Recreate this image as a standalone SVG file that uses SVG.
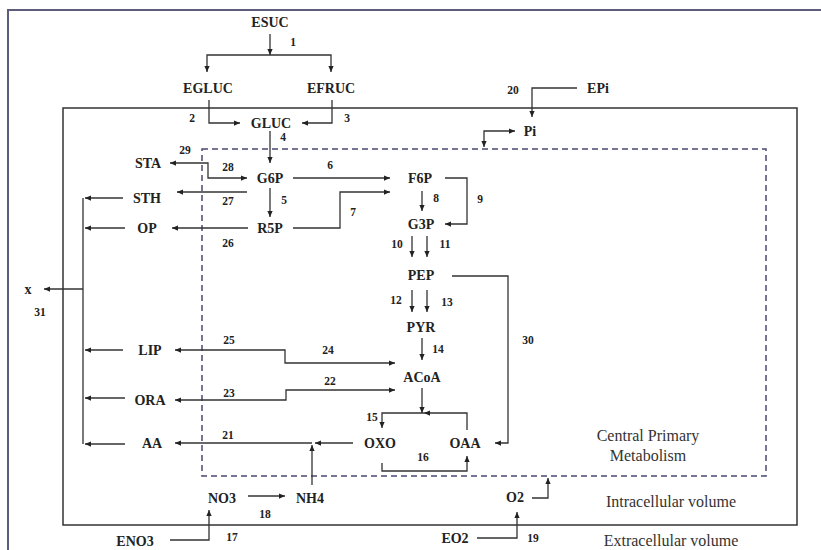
<svg xmlns="http://www.w3.org/2000/svg" width="821" height="550" viewBox="0 0 821 550">
<style>
.n{font-family:"Liberation Serif",serif;font-weight:bold;font-size:14px;fill:#222;text-anchor:middle}
.l{font-family:"Liberation Serif",serif;font-weight:bold;font-size:11.5px;fill:#222;text-anchor:middle}
.t{font-family:"Liberation Serif",serif;font-size:16px;fill:#333;text-anchor:middle}
.c{fill:none;stroke:#333;stroke-width:1.3}
.a{marker-end:url(#ah)}
.b{marker-start:url(#ah);marker-end:url(#ah)}
</style>
<defs>
<marker id="ah" viewBox="0 0 8 8" refX="8" refY="4" markerWidth="6" markerHeight="6" markerUnits="userSpaceOnUse" orient="auto-start-reverse">
<path d="M0,0.5 L8,4 L0,7.5 Z" fill="#222"/>
</marker>
</defs>
<rect x="0" y="0" width="821" height="550" fill="#fff"/>
<g id="frames">
<rect x="8" y="10" width="830" height="560" fill="none" stroke="#5c5c7c" stroke-width="2"/>
<rect x="63" y="108" width="734" height="417" fill="none" stroke="#333" stroke-width="1.5"/>
<rect x="202" y="149" width="564" height="327" fill="none" stroke="#4a4a72" stroke-width="1.5" stroke-dasharray="6,4"/>
</g>
<g id="connectors" class="c">
<path class="a" d="M270,34 V55"/>
<path class="b" d="M207,72 V55 H331 V72"/>
<path class="a" d="M209,100 V123 H240"/>
<path class="a" d="M332,100 V123 H302"/>
<path class="a" d="M270,131 V163"/>
<path class="b" d="M170,163 H208 V178 H247"/>
<path class="a" d="M293,178 H390"/>
<path class="a" d="M247,192 H177"/>
<path class="a" d="M270,188 V217"/>
<path class="a" d="M293,228 H340 V192 H390"/>
<path class="a" d="M248,228 H172"/>
<path class="a" d="M123,198 H85"/>
<path class="a" d="M125,228 H85"/>
<path class="a" d="M123,350 H85"/>
<path class="a" d="M125,398 H85"/>
<path class="a" d="M125,444 H85"/>
<path d="M83,198 V444"/>
<path class="a" d="M83,289 H44"/>
<path class="a" d="M422,191 V211"/>
<path class="a" d="M445,178 H467 V224 H445"/>
<path class="a" d="M412,236 V257"/>
<path class="a" d="M427,236 V257"/>
<path class="a" d="M412,290 V312"/>
<path class="a" d="M427,290 V312"/>
<path class="a" d="M422,338 V360"/>
<path class="a" d="M422,388 V413"/>
<path class="a" d="M467,430 V413 H424"/>
<path class="a" d="M424,413 H382 V428"/>
<path class="a" d="M382,463 V471 H467 V456"/>
<path class="a" d="M452,276 H508 V443 H495"/>
<path class="b" d="M175,350 H285 V363 H395"/>
<path class="b" d="M175,400 H286 V390 H395"/>
<path class="a" d="M353,443 H315"/>
<path class="a" d="M312,443 H175"/>
<path class="a" d="M312,485 V445"/>
<path class="a" d="M248,496 H285"/>
<path class="a" d="M170,540 H209 V510"/>
<path class="a" d="M477,538 H517 V512"/>
<path class="a" d="M532,498 H548 V478"/>
<path class="a" d="M577,88 H532 V117"/>
<path class="b" d="M484,147 V131 H515"/>
</g>
<g id="ESUC"><text class="n" x="270" y="27">ESUC</text></g>
<g id="EGLUC"><text class="n" x="208" y="93">EGLUC</text></g>
<g id="EFRUC"><text class="n" x="331" y="93">EFRUC</text></g>
<g id="GLUC"><text class="n" x="271" y="128">GLUC</text></g>
<g id="EPi"><text class="n" x="598" y="93">EPi</text></g>
<g id="Pi"><text class="n" x="530" y="136">Pi</text></g>
<g id="STA"><text class="n" x="148" y="168">STA</text></g>
<g id="G6P"><text class="n" x="270" y="183">G6P</text></g>
<g id="F6P"><text class="n" x="420" y="183">F6P</text></g>
<g id="STH"><text class="n" x="147" y="203">STH</text></g>
<g id="OP"><text class="n" x="147" y="233">OP</text></g>
<g id="R5P"><text class="n" x="270" y="233">R5P</text></g>
<g id="G3P"><text class="n" x="421" y="229">G3P</text></g>
<g id="PEP"><text class="n" x="421" y="280">PEP</text></g>
<g id="PYR"><text class="n" x="421" y="332">PYR</text></g>
<g id="ACoA"><text class="n" x="422" y="382">ACoA</text></g>
<g id="X"><text class="n" x="28" y="294">x</text></g>
<g id="LIP"><text class="n" x="150" y="355">LIP</text></g>
<g id="ORA"><text class="n" x="150" y="405">ORA</text></g>
<g id="AA"><text class="n" x="152" y="448">AA</text></g>
<g id="OXO"><text class="n" x="380" y="448">OXO</text></g>
<g id="OAA"><text class="n" x="465" y="448">OAA</text></g>
<g id="NO3"><text class="n" x="222" y="503">NO3</text></g>
<g id="NH4"><text class="n" x="310" y="503">NH4</text></g>
<g id="O2"><text class="n" x="515" y="502">O2</text></g>
<g id="ENO3"><text class="n" x="135" y="546">ENO3</text></g>
<g id="EO2"><text class="n" x="455" y="543">EO2</text></g>
<g id="labels">
<text class="l" x="293" y="46">1</text>
<text class="l" x="192" y="122">2</text>
<text class="l" x="347" y="122">3</text>
<text class="l" x="283" y="141">4</text>
<text class="l" x="284" y="204">5</text>
<text class="l" x="330" y="169">6</text>
<text class="l" x="353" y="216">7</text>
<text class="l" x="436" y="202">8</text>
<text class="l" x="480" y="203">9</text>
<text class="l" x="397" y="248">10</text>
<text class="l" x="445" y="248">11</text>
<text class="l" x="396" y="304">12</text>
<text class="l" x="447" y="306">13</text>
<text class="l" x="438" y="353">14</text>
<text class="l" x="372" y="421">15</text>
<text class="l" x="423" y="461">16</text>
<text class="l" x="232" y="541">17</text>
<text class="l" x="265" y="518">18</text>
<text class="l" x="533" y="542">19</text>
<text class="l" x="513" y="94">20</text>
<text class="l" x="228" y="439">21</text>
<text class="l" x="330" y="385">22</text>
<text class="l" x="229" y="397">23</text>
<text class="l" x="328" y="354">24</text>
<text class="l" x="229" y="344">25</text>
<text class="l" x="228" y="247">26</text>
<text class="l" x="228" y="205">27</text>
<text class="l" x="228" y="171">28</text>
<text class="l" x="185" y="154">29</text>
<text class="l" x="528" y="344">30</text>
<text class="l" x="40" y="316">31</text>
<text class="t" x="648" y="441">Central Primary</text>
<text class="t" x="648" y="461">Metabolism</text>
<text class="t" x="671" y="507">Intracellular volume</text>
<text class="t" x="671" y="546">Extracellular volume</text>
</g>
</svg>
